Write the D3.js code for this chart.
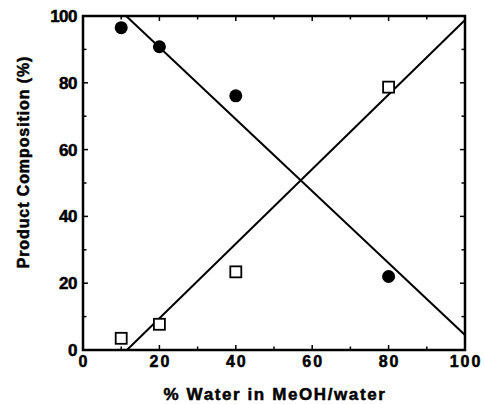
<!DOCTYPE html>
<html>
<head>
<meta charset="UTF-8">
<style>
  body { margin: 0; background: #fff; }
  text { font-family: "Liberation Sans", Arial, sans-serif; font-weight: bold; fill: #000;
         stroke: #000; stroke-width: 0.5px; }
</style>
</head>
<body>
<svg width="484" height="404"></svg>
<script src="https://cdn.jsdelivr.net/npm/d3@7"></script>
<script>
// measured points
const waterPct = [10, 20, 40, 80];
const circleVals = [96.5, 90.8, 76.1, 22];
const squareVals = [3.5, 7.7, 23.4, 78.7];

// fitted lines, [x, y] ends
const fallLine = [[11.3, 100], [100, 4.5]];
const riseLine = [[11.5, 0], [100, 98.8]];

const xTicks = [0, 20, 40, 60, 80, 100];
const yTicks = [0, 20, 40, 60, 80, 100];

let svg = d3.select("svg");
let x = d3.scaleLinear().domain([0, 100]).range([83, 465]);
let y = d3.scaleLinear().domain([0, 100]).range([350, 16]);

let minor = d3.range(0, 101, 10);

// inward ticks, all four sides
let ticks = svg.append("g").attr("stroke", "#000").attr("stroke-width", 1.5);
minor.forEach(v => {
    let len = v % 20 === 0 ? 5 : 3.5;
    ticks.append("line").attr("x1", x(v)).attr("x2", x(v)).attr("y1", y(0)).attr("y2", y(0) - len);
    ticks.append("line").attr("x1", x(v)).attr("x2", x(v)).attr("y1", y(100)).attr("y2", y(100) + len);
    ticks.append("line").attr("x1", x(0)).attr("x2", x(0) + len).attr("y1", y(v)).attr("y2", y(v));
    ticks.append("line").attr("x1", x(100)).attr("x2", x(100) - len).attr("y1", y(v)).attr("y2", y(v));
});

svg.append("rect")
    .attr("x", x(0)).attr("y", y(100))
    .attr("width", x(100) - x(0)).attr("height", y(0) - y(100))
    .attr("fill", "none").attr("stroke", "#000").attr("stroke-width", 2.5);

// tick labels
svg.append("g").selectAll("text").data(xTicks).enter().append("text")
    .attr("x", d => x(d) + 1).attr("y", 367)
    .attr("text-anchor", "middle")
    .style("font-size", "16px").style("letter-spacing", "2px")
    .text(d => d);

svg.append("g").selectAll("text").data(yTicks).enter().append("text")
    .attr("x", 77).attr("y", d => y(d) + 6)
    .attr("text-anchor", "end")
    .style("font-size", "17px").style("letter-spacing", "-0.5px")
    .text(d => d);

// axis titles
svg.append("text")
    .attr("x", 275).attr("y", 400)
    .attr("text-anchor", "middle")
    .style("font-size", "17px").style("letter-spacing", "1.6px")
    .text("% Water in MeOH/water");

svg.append("text")
    .attr("transform", "translate(29,162) rotate(-90)")
    .attr("text-anchor", "middle")
    .style("font-size", "16px").style("letter-spacing", "0.9px")
    .text("Product Composition (%)");

// fit lines
let line = d3.line().x(d => x(d[0])).y(d => y(d[1]));
[fallLine, riseLine].forEach(l => {
    svg.append("path").attr("d", line(l))
        .attr("fill", "none").attr("stroke", "#000").attr("stroke-width", 2);
});

// markers
svg.append("g").selectAll("circle").data(waterPct).enter().append("circle")
    .attr("cx", d => x(d)).attr("cy", (d, i) => y(circleVals[i]))
    .attr("r", 6.5).attr("fill", "#000");

svg.append("g").selectAll("rect").data(waterPct).enter().append("rect")
    .attr("x", d => x(d) - 5.5).attr("y", (d, i) => y(squareVals[i]) - 5.5)
    .attr("width", 11).attr("height", 11)
    .attr("fill", "#fff").attr("stroke", "#000").attr("stroke-width", 1.8);
</script>
</body>
</html>
